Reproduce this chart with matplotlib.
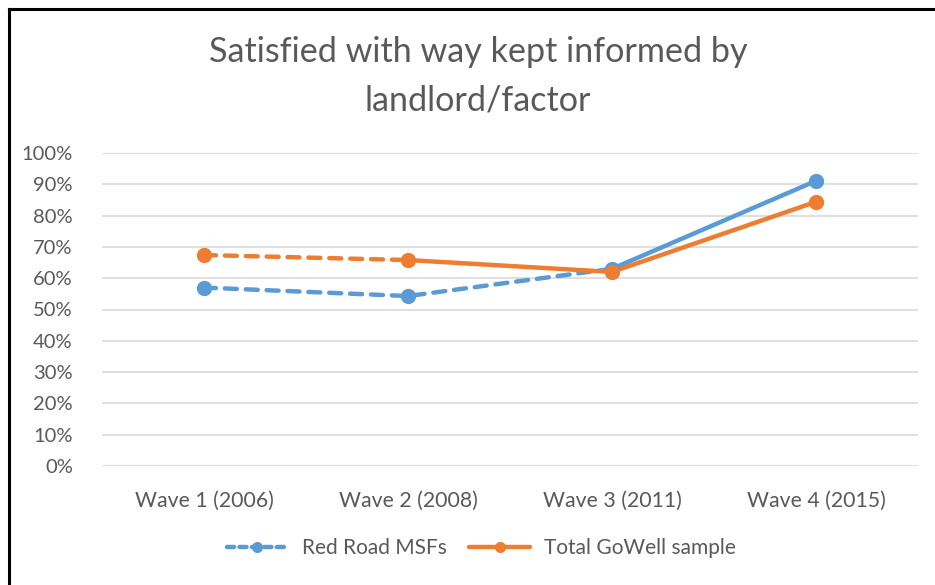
import matplotlib
matplotlib.use("Agg")
import matplotlib.pyplot as plt
from matplotlib.lines import Line2D

categories = ["Wave 1 (2006)", "Wave 2 (2008)", "Wave 3 (2011)", "Wave 4 (2015)"]
red_road = [0.57, 0.543, 0.63, 0.911]
total_gowell = [0.674, 0.658, 0.62, 0.844]
yticks = [0, 0.1, 0.2, 0.3, 0.4, 0.5, 0.6, 0.7, 0.8, 0.9, 1.0]
ytick_labels = ["0%", "10%", "20%", "30%", "40%", "50%", "60%", "70%", "80%", "90%", "100%"]

BLUE = "#5B9BD5"
ORANGE = "#ED7D31"
TXT = "#595959"
GRID = "#D9D9D9"

plt.rcParams['font.family'] = ['Lato', 'DejaVu Sans']

fig = plt.figure(figsize=(9.35, 5.85), dpi=100)
ax = fig.add_axes([102/935, 1-466/585, 816/935, 313/585])

x = list(range(len(categories)))
lw = 3.2
dash = (2.7, 2.0)

# blue: dashed waves 1-3, solid 3-4
ax.plot(x[0:3], red_road[0:3], color=BLUE, lw=lw, dashes=dash, dash_capstyle='round', zorder=3)
ax.plot(x[2:4], red_road[2:4], color=BLUE, lw=lw, solid_capstyle='round', zorder=3)
ax.plot(x, red_road, ls='none', marker='o', ms=10, color=BLUE, zorder=4)

# orange: dashed waves 1-2, solid 2-4
ax.plot(x[0:2], total_gowell[0:2], color=ORANGE, lw=lw, dashes=dash, dash_capstyle='round', zorder=3)
ax.plot(x[1:4], total_gowell[1:4], color=ORANGE, lw=lw, solid_capstyle='round', zorder=3)
ax.plot(x, total_gowell, ls='none', marker='o', ms=10, color=ORANGE, zorder=4)

ax.set_xlim(-0.5, 3.5)
ax.set_ylim(0, 1.0)
ax.set_yticks(yticks)
ax.set_yticklabels(ytick_labels)
ax.set_xticks(x)
ax.set_xticklabels(categories)
ax.grid(axis='y', color=GRID, lw=1.2)
ax.set_axisbelow(True)
for s in ax.spines.values():
    s.set_visible(False)
ax.tick_params(axis='both', length=0, colors=TXT)
ax.tick_params(axis='y', pad=21, labelsize=14.5)
ax.tick_params(axis='x', pad=18, labelsize=15.3)

fig.text(478/935, 1-52/585, "Satisfied with way kept informed by", ha='center', va='center',
         fontsize=24.6, color=TXT)
fig.text(478/935, 1-100/585, "landlord/factor", ha='center', va='center',
         fontsize=24.6, color=TXT)

h1 = Line2D([], [], color=BLUE, lw=lw, dashes=(1.6, 1.2), dash_capstyle='round', marker='o', ms=7)
h2 = Line2D([], [], color=ORANGE, lw=lw, solid_capstyle='round', marker='o', ms=7)
fig.legend([h1, h2], ["Red Road MSFs", "Total GoWell sample"], loc='center',
           bbox_to_anchor=(0.515, 1-548/585), ncol=2, frameon=False, fontsize=15,
           labelcolor=TXT, handlelength=2.9, columnspacing=1.1, handletextpad=0.7)

# outer border (top and left visible)
fig.add_artist(Line2D([8.5/935, 1.0], [1-8.5/585, 1-8.5/585], color='black', lw=2.2,
                      transform=fig.transFigure))
fig.add_artist(Line2D([8.5/935, 8.5/935], [0, 1-8.5/585], color='black', lw=2.2,
                      transform=fig.transFigure))

fig.savefig("out.png", dpi=100)
